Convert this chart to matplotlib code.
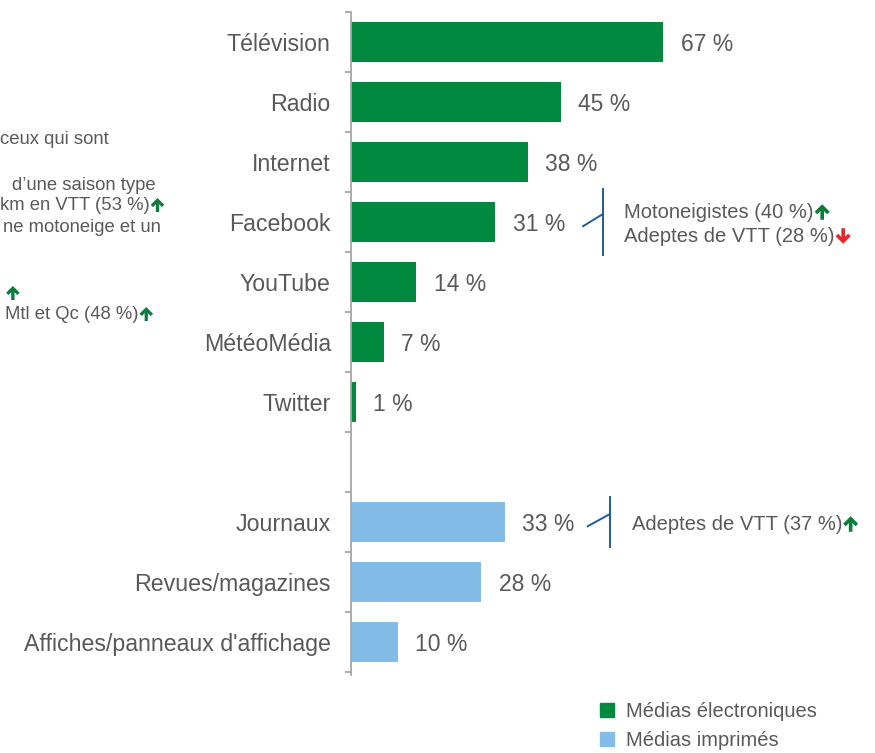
import matplotlib.pyplot as plt
from matplotlib.patches import Patch
from matplotlib.text import OffsetFrom

plt.rcParams['font.family'] = ['Liberation Sans', 'DejaVu Sans']

# data
electro_labels = ['Télévision', 'Radio', 'Internet', 'Facebook', 'YouTube', 'MétéoMédia', 'Twitter']
electro_values = [67, 45, 38, 31, 14, 7, 1]
print_labels = ['Journaux', 'Revues/magazines', "Affiches/panneaux d'affichage"]
print_values = [33, 28, 10]

# side notes next to some bars: (category, [(text, arrow)])
notes = {
    'Facebook': [('Motoneigistes (40 %)', 'up'), ('Adeptes de VTT (28 %)', 'down')],
    'Journaux': [('Adeptes de VTT (37 %)', 'up')],
}

# cut-off text on the left side of the slide: (text, x px, y px, arrow)
left_texts = [
    ('ceux qui sont', 0, 138, None),
    ('d\u2019une saison type', 12, 183, None),
    ('km en VTT (53 %)', 0, 203, 'up'),
    ('ne motoneige et un', 3, 226, None),
    ('', 0, 291, 'up'),
    ('Mtl et Qc (48 %)', 5, 312, 'up'),
]

GREEN = '#00893F'
BLUE = '#83BDE7'
GREY = '#595959'
AXIS = '#A6A6A6'
UP = '#0A7D3B'
DOWN = '#E5262B'
LINE = '#1F5C99'

W, H = 875, 753
fig = plt.figure(figsize=(W / 100, H / 100), dpi=100)
ax = fig.add_axes([351 / W, 1 - 672 / H, 524 / W, 660 / H])

e_pos = list(range(len(electro_labels)))
p_pos = [len(electro_labels) + 1 + i for i in range(len(print_labels))]

ax.barh(e_pos, electro_values, height=0.667, color=GREEN)
ax.barh(p_pos, print_values, height=0.667, color=BLUE)

ax.set_xlim(0, 524 / 4.66)
ax.set_ylim(len(electro_labels) + len(print_labels) + 0.5, -0.5)

for s in ['top', 'right', 'bottom']:
    ax.spines[s].set_visible(False)
ax.spines['left'].set_color(AXIS)
ax.spines['left'].set_linewidth(1.3)
ax.spines['left'].set_bounds(-0.5, 10.55)
ax.set_xticks([])

ax.set_yticks(e_pos + p_pos)
ax.set_yticklabels(electro_labels + print_labels, fontsize=16.7, color=GREY)
ax.tick_params(axis='y', which='major', length=0, pad=14.5)
ax.set_yticks([i - 0.5 for i in range(12)], minor=True)
ax.tick_params(axis='y', which='minor', length=4.3, width=1.3, color=AXIS, direction='out')

for pos, val in zip(e_pos + p_pos, electro_values + print_values):
    ax.annotate(f'{val} %', xy=(val, pos), xytext=(12.5, 0), textcoords='offset points',
                va='center_baseline', ha='left', fontsize=16.5, color=GREY)


def add_arrow(txt, kind, scale=1.0):
    # thick arrow drawn just after the text
    col = UP if kind == 'up' else DOWN
    ref = OffsetFrom(txt, (1, 0.5), unit='points')
    h = 5.6 * scale
    x = 6.2 * scale
    tip, tail = ((x, h), (x, -h)) if kind == 'up' else ((x, -h), (x, h))
    ax.annotate('', xy=tip, xycoords=ref, xytext=tail, textcoords=ref,
                arrowprops=dict(arrowstyle='->,head_width=0.45,head_length=0.45',
                                lw=2.6 * scale, color=col, shrinkA=0, shrinkB=0,
                                mutation_scale=10 * scale, capstyle='butt',
                                joinstyle='miter'),
                annotation_clip=False)


# bracket notes
all_labels = electro_labels + print_labels
all_values = electro_values + print_values
for cat, lines in notes.items():
    i = all_labels.index(cat)
    pos = (e_pos + p_pos)[i]
    val = all_values[i]
    n = len(lines)
    bx = val + 23 if n > 1 else val + 22.5
    half = 0.55 if n > 1 else 0.42
    ax.plot([bx, bx], [pos - half, pos + half], color=LINE, lw=1.4, clip_on=False)
    x0 = val + 18.8 if n > 1 else val + 17.8
    ax.plot([x0, bx], [pos + 0.07, pos - 0.13], color=LINE, lw=1.4, clip_on=False)
    for k, (t, arr) in enumerate(lines):
        dy = (k - (n - 1) / 2) * 0.4
        tx = ax.text(bx + 4.6 if n > 1 else bx + 4.7, pos + dy, t, fontsize=14.5, color=GREY,
                     va='center_baseline', ha='left', clip_on=False)
        add_arrow(tx, arr, 1.0)

# cut-off left texts
for t, x, y, arr in left_texts:
    tx = fig.text(x / W, 1 - y / H, t if t else ' ', fontsize=13.3, color=GREY,
                  va='center_baseline', ha='left')
    if arr:
        add_arrow(tx, arr, 0.9)

fig.legend(handles=[Patch(color=GREEN), Patch(color=BLUE)],
           labels=['Médias électroniques', 'Médias imprimés'],
           loc='upper left', bbox_to_anchor=(600 / W, 1 - 702 / H), frameon=False,
           fontsize=14.5, labelcolor=GREY, handlelength=0.68, handleheight=0.68,
           handletextpad=0.62, labelspacing=0.5, borderaxespad=0, borderpad=0)

fig.savefig('out.png', dpi=100)
